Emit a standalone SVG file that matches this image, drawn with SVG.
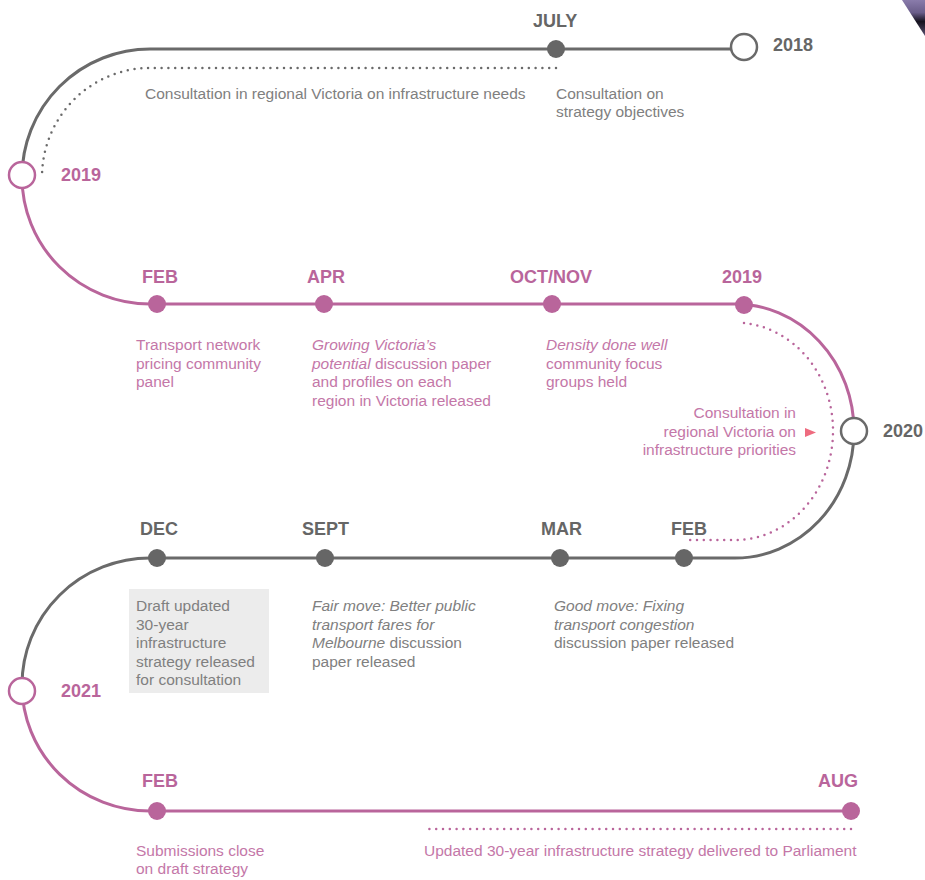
<svg xmlns="http://www.w3.org/2000/svg" width="925" height="880" viewBox="0 0 925 880">
<defs>
<linearGradient id="photo" x1="0" y1="0" x2="0" y2="1">
<stop offset="0" stop-color="#8a7cab"/>
<stop offset="0.35" stop-color="#6a5d8a"/>
<stop offset="0.6" stop-color="#15121e"/>
<stop offset="1" stop-color="#5a5070"/>
</linearGradient>
<style>
.g{stroke:#6a6a6a;fill:none;stroke-width:3}
.p{stroke:#b9659b;fill:none;stroke-width:3}
.dg{stroke:#6a6a6a;fill:none;stroke-width:2.5;stroke-linecap:round;stroke-dasharray:0 6.8}
.dp{stroke:#b9659b;fill:none;stroke-width:2.5;stroke-linecap:round;stroke-dasharray:0 6.8}
.dotg{fill:#666666}
.dotp{fill:#b9659b}
.ringg{fill:#fff;stroke:#6a6a6a;stroke-width:2.5}
.ringp{fill:#fff;stroke:#b9659b;stroke-width:2.5}
text{font-family:"Liberation Sans",Arial,sans-serif}
.lg{font-size:18px;font-weight:bold;fill:#666666}
.lp{font-size:18px;font-weight:bold;fill:#b9659b}
.tg{font-size:15.5px;fill:#808080}
.tp{font-size:15.5px;fill:#c477a8}
.i{font-style:italic}
</style>
</defs>
<rect width="925" height="880" fill="#fff"/>
<polygon points="902,0 925,0 925,36" fill="url(#photo)"/>

<g id="connectors">
<path class="g" d="M 744 49 L 150 49 A 128 128 0 0 0 22 177"/>
<path class="p" d="M 22 177 A 128 127 0 0 0 150 304 L 735 304 A 119 127 0 0 1 854 431"/>
<path class="g" d="M 854 431 A 119 127 0 0 1 735 558 L 150 558 A 128 127 0 0 0 22 685"/>
<path class="p" d="M 22 685 A 128 126 0 0 0 150 811 L 851 811"/>
<path class="dg" d="M 556 68 L 150 68 A 108 109 0 0 0 42 177"/>
<path class="dp" d="M 744 323 A 98 108 0 0 1 833 431 A 98 109 0 0 1 735 540 L 684 540"/>
<path class="dp" d="M 851 829 L 425 829"/>
<polygon points="805,428 816,432.5 805,437" fill="#ee6b7f"/>
</g>

<g id="n2018"><circle class="ringg" cx="744" cy="47" r="13"/><text class="lg" x="773" y="51">2018</text></g>
<g id="njuly"><circle class="dotg" cx="556" cy="49" r="9"/><text class="lg" x="533" y="27">JULY</text>
<text class="tg" x="556" y="99">Consultation on</text><text class="tg" x="556" y="117">strategy objectives</text></g>
<g id="nregional"><text class="tg" x="145" y="99">Consultation in regional Victoria on infrastructure needs</text></g>
<g id="n2019a"><circle class="ringp" cx="22" cy="175" r="13"/><text class="lp" x="61" y="181">2019</text></g>

<g id="nfeb1"><circle class="dotp" cx="157" cy="304" r="9"/><text class="lp" x="142" y="283">FEB</text>
<text class="tp" x="136" y="350">Transport network</text><text class="tp" x="136" y="369">pricing community</text><text class="tp" x="136" y="387">panel</text></g>
<g id="napr"><circle class="dotp" cx="324" cy="304" r="9"/><text class="lp" x="307" y="283">APR</text>
<text class="tp" x="312" y="350"><tspan class="i">Growing Victoria’s</tspan></text>
<text class="tp" x="312" y="369"><tspan class="i">potential</tspan> discussion paper</text>
<text class="tp" x="312" y="387">and profiles on each</text>
<text class="tp" x="312" y="406">region in Victoria released</text></g>
<g id="noct"><circle class="dotp" cx="552" cy="304" r="9"/><text class="lp" x="510" y="283">OCT/NOV</text>
<text class="tp" x="546" y="350"><tspan class="i">Density done well</tspan></text>
<text class="tp" x="546" y="369">community focus</text><text class="tp" x="546" y="387">groups held</text></g>
<g id="n2019b"><circle class="dotp" cx="744" cy="305" r="9"/><text class="lp" x="722" y="283">2019</text></g>
<g id="nprior"><text class="tp" x="796" y="418" text-anchor="end">Consultation in</text>
<text class="tp" x="796" y="437" text-anchor="end">regional Victoria on</text>
<text class="tp" x="796" y="455" text-anchor="end">infrastructure priorities</text></g>
<g id="n2020"><circle class="ringg" cx="854" cy="431" r="13"/><text class="lg" x="883" y="437">2020</text></g>

<g id="nfeb2"><circle class="dotg" cx="684" cy="558" r="9"/><text class="lg" x="671" y="535">FEB</text></g>
<g id="nmar"><circle class="dotg" cx="560" cy="558" r="9"/><text class="lg" x="541" y="535">MAR</text>
<text class="tg" x="554" y="611"><tspan class="i">Good move: Fixing</tspan></text>
<text class="tg" x="554" y="630"><tspan class="i">transport congestion</tspan></text>
<text class="tg" x="554" y="648">discussion paper released</text></g>
<g id="nsept"><circle class="dotg" cx="325" cy="558" r="9"/><text class="lg" x="302" y="535">SEPT</text>
<text class="tg" x="312" y="611"><tspan class="i">Fair move: Better public</tspan></text>
<text class="tg" x="312" y="630"><tspan class="i">transport fares for</tspan></text>
<text class="tg" x="312" y="648"><tspan class="i">Melbourne</tspan> discussion</text>
<text class="tg" x="312" y="667">paper released</text></g>
<g id="ndec"><circle class="dotg" cx="157" cy="558" r="9"/><text class="lg" x="140" y="535">DEC</text>
<rect x="129" y="589" width="140" height="104" fill="#ececec"/>
<text class="tg" x="136" y="611">Draft updated</text><text class="tg" x="136" y="630">30-year</text>
<text class="tg" x="136" y="648">infrastructure</text><text class="tg" x="136" y="667">strategy released</text>
<text class="tg" x="136" y="685">for consultation</text></g>
<g id="n2021"><circle class="ringp" cx="22" cy="691" r="13"/><text class="lp" x="61" y="697">2021</text></g>

<g id="nfeb3"><circle class="dotp" cx="157" cy="811" r="9"/><text class="lp" x="142" y="787">FEB</text>
<text class="tp" x="136" y="856">Submissions close</text><text class="tp" x="136" y="874">on draft strategy</text></g>
<g id="naug"><circle class="dotp" cx="851" cy="811" r="9"/><text class="lp" x="818" y="787">AUG</text></g>
<g id="ndelivered"><text class="tp" x="424" y="856">Updated 30-year infrastructure strategy delivered to Parliament</text></g>
</svg>
